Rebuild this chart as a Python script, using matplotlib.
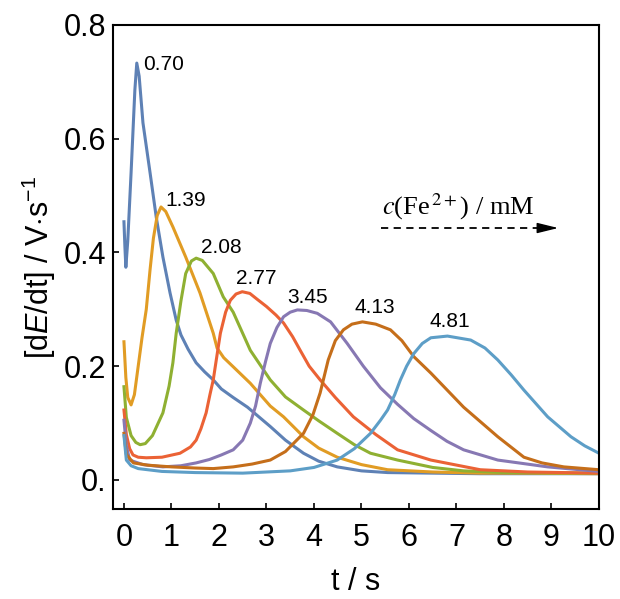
"""Derivative transients dE/dt vs time for several Fe2+ concentrations."""

import matplotlib
matplotlib.use('Agg')
import matplotlib.pyplot as plt

plt.rcParams['font.family'] = ['Liberation Sans', 'DejaVu Sans']
plt.rcParams['mathtext.fontset'] = 'custom'
plt.rcParams['mathtext.rm'] = 'Liberation Sans'
plt.rcParams['mathtext.it'] = 'Liberation Sans:italic'

# concentrations (mM) used as curve labels
conc_labels = ['0.70', '1.39', '2.08', '2.77', '3.45', '4.13', '4.81']
colors = ['#5E81B5', '#E19C24', '#8FB032', '#EB6235',
          '#8778B3', '#C56E1A', '#5D9EC7']

# curve 0.70 mM
t1 = [0.0, 0.02, 0.04, 0.08, 0.15, 0.23, 0.27, 0.32, 0.4, 0.55, 0.68, 0.82,
      0.97, 1.1, 1.2, 1.35, 1.52, 1.7, 1.88, 2.05, 2.3, 2.6, 3.08, 3.4,
      3.78, 4.1, 4.49, 5.0, 5.55, 6.5, 7.5, 8.5, 10.0]
y1 = [0.454, 0.41, 0.374, 0.42, 0.54, 0.686, 0.733, 0.71, 0.628, 0.54,
      0.462, 0.392, 0.329, 0.281, 0.255, 0.23, 0.206, 0.19, 0.176, 0.16,
      0.145, 0.128, 0.094, 0.07, 0.047, 0.033, 0.023, 0.016, 0.013, 0.012,
      0.011, 0.011, 0.011]

# curve 1.39 mM
t2 = [0.0, 0.04, 0.08, 0.15, 0.22, 0.3, 0.38, 0.47, 0.55, 0.62, 0.7, 0.78,
      0.88, 1.03, 1.3, 1.6, 1.88, 1.96, 2.1, 2.3, 2.66, 3.08, 3.36, 3.78,
      4.1, 4.49, 5.0, 5.55, 6.5, 7.5, 8.5, 10.0]
y2 = [0.243, 0.18, 0.145, 0.132, 0.15, 0.2, 0.25, 0.3, 0.37, 0.425, 0.465,
      0.48, 0.472, 0.445, 0.392, 0.329, 0.258, 0.232, 0.215, 0.199, 0.17,
      0.13, 0.111, 0.076, 0.056, 0.04, 0.027, 0.018, 0.014, 0.012, 0.012,
      0.011]

# curve 2.08 mM
t3 = [0.0, 0.05, 0.15, 0.25, 0.34, 0.45, 0.6, 0.82, 0.95, 1.03, 1.1, 1.2,
      1.3, 1.42, 1.52, 1.65, 1.88, 2.09, 2.3, 2.66, 3.08, 3.4, 3.78, 4.1,
      4.49, 4.85, 5.19, 5.76, 6.5, 7.15, 8.0, 10.0]
y3 = [0.164, 0.11, 0.078, 0.066, 0.062, 0.064, 0.078, 0.118, 0.165, 0.206,
      0.258, 0.315, 0.363, 0.385, 0.39, 0.386, 0.363, 0.322, 0.295, 0.228,
      0.176, 0.146, 0.123, 0.104, 0.082, 0.062, 0.047, 0.035, 0.022, 0.016,
      0.013, 0.012]

# curve 2.77 mM
t4 = [0.0, 0.05, 0.12, 0.19, 0.3, 0.47, 0.8, 1.18, 1.4, 1.52, 1.62, 1.73,
      1.81, 1.88, 1.96, 2.03, 2.14, 2.24, 2.36, 2.49, 2.65, 2.8, 3.0, 3.2,
      3.36, 3.55, 3.71, 3.9, 4.13, 4.45, 4.83, 5.3, 5.76, 6.46, 7.5, 8.5, 10.0]
y4 = [0.123, 0.08, 0.055, 0.044, 0.04, 0.039, 0.04, 0.047, 0.058, 0.07,
      0.09, 0.118, 0.15, 0.176, 0.22, 0.258, 0.295, 0.316, 0.327, 0.331,
      0.328, 0.318, 0.305, 0.29, 0.276, 0.252, 0.228, 0.2, 0.176, 0.145,
      0.111, 0.08, 0.053, 0.035, 0.018, 0.014, 0.012]

# curve 3.45 mM
t5 = [0.0, 0.05, 0.12, 0.4, 0.82, 1.2, 1.52, 1.8, 2.05, 2.3, 2.5, 2.66,
      2.77, 2.87, 2.98, 3.08, 3.22, 3.36, 3.5, 3.65, 3.85, 4.07, 4.35, 4.7,
      5.04, 5.4, 5.76, 6.1, 6.46, 6.8, 7.15, 7.87, 8.92, 10.0]
y5 = [0.105, 0.06, 0.035, 0.027, 0.023, 0.025, 0.03, 0.036, 0.044, 0.053,
      0.07, 0.1, 0.13, 0.17, 0.208, 0.24, 0.268, 0.287, 0.295, 0.299, 0.298,
      0.293, 0.278, 0.24, 0.2, 0.162, 0.133, 0.108, 0.087, 0.068, 0.053,
      0.035, 0.023, 0.015]

# curve 4.13 mM
t6 = [0.0, 0.05, 0.2, 0.5, 1.0, 1.5, 1.88, 2.3, 2.7, 3.08, 3.4, 3.78, 3.98,
      4.13, 4.3, 4.45, 4.62, 4.8, 5.02, 5.3, 5.61, 5.85, 6.1, 6.46, 7.15,
      7.87, 8.42, 8.8, 9.26, 10.0]
y6 = [0.082, 0.045, 0.03, 0.026, 0.023, 0.021, 0.02, 0.023, 0.028, 0.035,
      0.05, 0.082, 0.115, 0.153, 0.211, 0.245, 0.264, 0.274, 0.278, 0.274,
      0.264, 0.245, 0.217, 0.188, 0.128, 0.076, 0.04, 0.03, 0.023, 0.018]

# curve 4.81 mM
t7 = [0.0, 0.05, 0.15, 0.3, 0.8, 1.5, 2.5, 3.5, 4.0, 4.49, 4.85, 5.19, 5.4,
      5.55, 5.7, 5.82, 5.95, 6.1, 6.28, 6.46, 6.81, 7.3, 7.6, 7.87, 8.15,
      8.42, 8.92, 9.41, 9.7, 10.0]
y7 = [0.078, 0.035, 0.025, 0.02, 0.015, 0.013, 0.012, 0.016, 0.022, 0.035,
      0.055, 0.082, 0.105, 0.123, 0.15, 0.176, 0.2, 0.222, 0.24, 0.25,
      0.253, 0.246, 0.232, 0.211, 0.185, 0.158, 0.111, 0.076, 0.06, 0.047]

times = [t1, t2, t3, t4, t5, t6, t7]
values = [y1, y2, y3, y4, y5, y6, y7]

# label anchor points (data coords)
label_x = [0.4, 0.88, 1.63, 2.36, 3.44, 4.85, 6.44]
label_y = [0.731, 0.492, 0.408, 0.355, 0.32, 0.304, 0.278]

fig = plt.figure(figsize=(6.2, 5.99), dpi=100)
ax = fig.add_axes([0.1823, 0.1503, 0.7838, 0.808])

for t, y, c in zip(times, values, colors):
    ax.plot(t, y, color=c, lw=2.2, solid_joinstyle='round')

for lx, ly, lab in zip(label_x, label_y, conc_labels):
    ax.text(lx, ly, lab, fontsize=15, ha='left', va='center')

# concentration arrow: dashed shaft plus solid head
ax.plot([5.42, 8.95], [0.443, 0.443], color='black', lw=1.3,
        linestyle=(0, (4, 3)))
ax.annotate('', xy=(9.2, 0.443), xytext=(8.9, 0.443),
            arrowprops=dict(arrowstyle='-|>,head_length=0.65,head_width=0.16',
                            color='black', lw=1.0, mutation_scale=20))
ax.text(5.44, 0.48, r'$c$(Fe$^{\,2+}$) / mM', fontsize=19, ha='left',
        va='center', family='Liberation Serif', math_fontfamily='stix')

ax.set_xlim(-0.23, 10)
ax.set_ylim(-0.051, 0.8)
ax.set_xticks(range(0, 11))
ax.set_yticks([0.0, 0.2, 0.4, 0.6, 0.8])
ax.set_yticklabels(['0.', '0.2', '0.4', '0.6', '0.8'])
ax.tick_params(direction='in', length=4, width=1.2, labelsize=22,
               top=False, right=False)
ax.tick_params(axis='x', pad=10)
ax.tick_params(axis='y', pad=5)
for s in ax.spines.values():
    s.set_linewidth(1.5)

ax.set_xlabel('t / s', fontsize=22, labelpad=10)
ax.set_ylabel(r'[d$\it{E}$/dt] / V$\cdot$s$^{-1}$', fontsize=22, labelpad=4)

plt.savefig('out.png', dpi=100)
